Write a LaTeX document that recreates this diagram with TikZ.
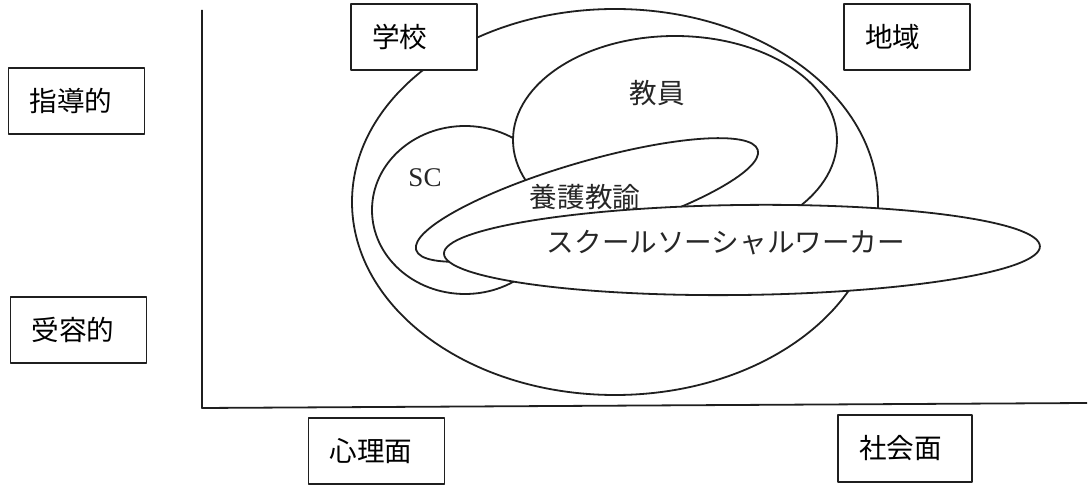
\documentclass[tikz,border=0pt]{standalone}
\usepackage{fontspec}
\newfontfamily\jp{Noto Sans CJK JP}
\newfontfamily\lat{Liberation Serif}
\begin{document}
\begin{tikzpicture}[x=0.5pt,y=-0.5pt,
  line join=round,
  ln/.style={draw=black!88, line width=0.9pt},
  region/.style={ln, fill=white},
  boxn/.style={ln, fill=white, rectangle, inner xsep=10.5pt, inner ysep=0pt,
     minimum height=33pt, align=left, font=\jp\fontsize{13.8pt}{16pt}\selectfont},
  lab/.style={inner sep=0pt, font=\jp\fontsize{13.8pt}{16pt}\selectfont, text=black!85},
]
\useasboundingbox (0,0) rectangle (1089,486);

% axes
\coordinate (ytop) at (202,10);
\coordinate (orig) at (202,408);
\coordinate (xend) at (1087,403);
\draw[ln] (ytop) -- (orig) -- (xend);

% ellipses
\coordinate (cSchool) at (615,202);
\coordinate (cSC) at (465,210);
\coordinate (cTeach) at (675,140);
\coordinate (cNurse) at (587,200);
\coordinate (cSSW) at (742,250);

\draw[region] (cSchool) ellipse [x radius=131.5pt, y radius=96.5pt];
\draw[region] (cSC) ellipse [x radius=46.5pt, y radius=42pt];
\draw[region] (cTeach) ellipse [x radius=81pt, y radius=52pt];
\draw[region, rotate around={16.3:(cNurse)}] (cNurse) ellipse [x radius=89pt, y radius=19pt];
\draw[region, rotate around={0.7:(cSSW)}] (cSSW) ellipse [x radius=149pt, y radius=22.5pt];

% region labels
\node[lab, font=\lat\fontsize{13.5pt}{16pt}\selectfont] (sc) at (425,178) {SC};
\node[lab] (teach) at (657,93) {教員};
\node[lab] (nurse) at (585,197) {養護教諭};
\node[lab] (ssw) at (726,243) {スクールソーシャルワーカー};

% boxes
\node[boxn, text width=47pt] (shidou) at (76.5,101) {指導的};
\node[boxn, text width=47pt] (juyou) at (78.5,330) {受容的};
\node[boxn, text width=42pt] (gakkou) at (414,37) {学校};
\node[boxn, text width=42pt] (chiiki) at (907,37) {地域};
\node[boxn, text width=47pt] (shinri) at (376.5,451) {心理面};
\node[boxn, text width=46pt, minimum height=33.5pt] (shakai) at (905,448.5) {社会面};
\end{tikzpicture}
\end{document}
